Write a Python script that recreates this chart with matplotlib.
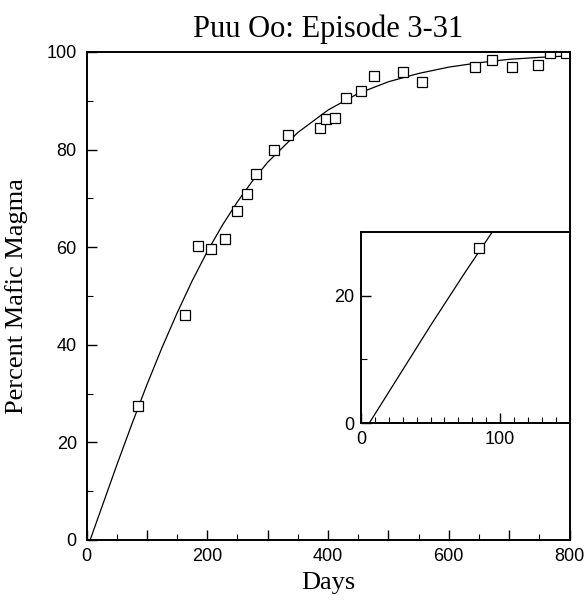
import matplotlib.pyplot as plt
from matplotlib.ticker import MultipleLocator, FuncFormatter

# measured points: days since start of episode 3, percent mafic magma
days = [85, 163, 184, 207, 229, 249, 266, 281, 311, 334, 386, 396, 412,
        429, 455, 477, 524, 556, 643, 672, 704, 747, 767, 794]
mafic = [27.5, 46.1, 60.3, 59.7, 61.6, 67.4, 70.8, 75.0, 80.0, 83.0, 84.5,
         86.2, 86.4, 90.6, 92.1, 95.0, 95.8, 93.9, 97.0, 98.4, 97.0, 97.4,
         99.7, 99.7]

# fitted mixing curve
fit_days = [6, 25, 50, 75, 100, 125, 150, 175, 200, 225, 250, 275, 300,
            350, 400, 450, 500, 550, 600, 650, 700, 750, 800]
fit_mafic = [0, 6.6, 15.3, 23.7, 31.8, 39.4, 46.5, 53.1, 59.1, 64.5, 69.3,
             73.6, 77.4, 83.5, 88.1, 91.5, 93.9, 95.6, 96.9, 97.8, 98.5,
             98.9, 99.2]

serif = ['Liberation Serif', 'DejaVu Serif']
tickfont = ['Liberation Sans', 'DejaVu Sans']

fig = plt.figure(figsize=(5.84, 6.0), dpi=100)
W, H = 584, 600


def style_axes(a, ypad):
    a.tick_params(which='both', direction='in', top=False, right=False)
    a.tick_params(which='major', length=7, width=1.0, labelsize=13)
    a.tick_params(which='minor', length=4, width=0.8)
    a.tick_params(axis='x', pad=6)
    a.tick_params(axis='y', pad=ypad)
    for s in a.spines.values():
        s.set_linewidth(1.4)
    for lab in a.get_xticklabels() + a.get_yticklabels():
        lab.set_family(tickfont)


# main axes
ax = fig.add_axes([86.5 / W, 1 - 540 / H, (569.5 - 86.5) / W, (540 - 52) / H])
ax.plot(fit_days, fit_mafic, color='black', lw=0.9)
ax.plot(days, mafic, ls='none', marker='s', ms=7.5, mfc='white',
        mec='black', mew=0.9)
ax.set_xlim(0, 800)
ax.set_ylim(0, 100)
ax.xaxis.set_major_locator(MultipleLocator(100))
ax.xaxis.set_minor_locator(MultipleLocator(50))
ax.xaxis.set_major_formatter(FuncFormatter(
    lambda v, p: '%d' % v if round(v) % 200 == 0 else ''))
ax.yaxis.set_major_locator(MultipleLocator(20))
ax.yaxis.set_minor_locator(MultipleLocator(10))
style_axes(ax, 7)
ax.set_title('Puu Oo: Episode 3-31', family=serif, fontsize=22, pad=11)
ax.set_xlabel('Days', family=serif, fontsize=19, labelpad=5)
ax.set_ylabel('Percent Mafic Magma', family=serif, fontsize=19, labelpad=13)

# inset: first 150 days
ins = fig.add_axes([361 / W, 1 - 423 / H, (569.5 - 361) / W, (423 - 232) / H])
ins.plot(fit_days, fit_mafic, color='black', lw=0.9)
ins.plot(days, mafic, ls='none', marker='s', ms=7.5, mfc='white',
         mec='black', mew=0.9)
ins.set_xlim(0, 150)
ins.set_ylim(0, 30)
ins.xaxis.set_major_locator(MultipleLocator(100))
ins.xaxis.set_minor_locator(MultipleLocator(10))
ins.yaxis.set_major_locator(MultipleLocator(20))
ins.yaxis.set_minor_locator(MultipleLocator(10))
style_axes(ins, 5)

fig.savefig('out.png', dpi=100)
